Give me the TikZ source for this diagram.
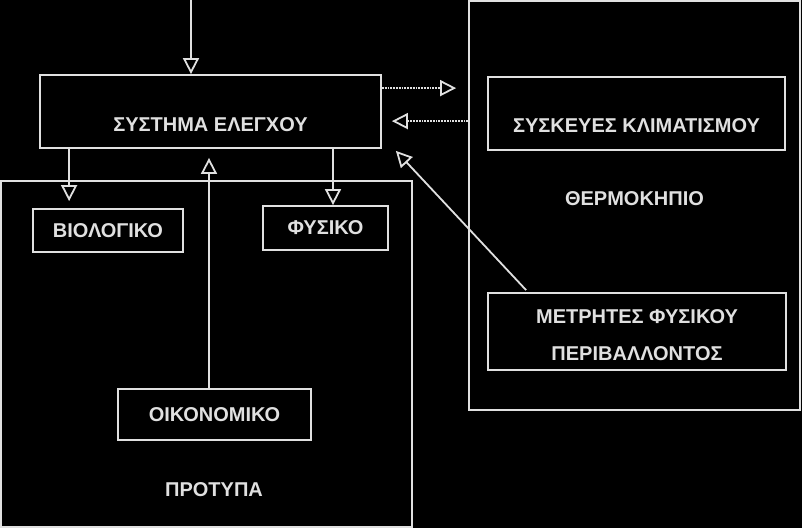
\documentclass[tikz,border=0pt]{standalone}
\usepackage{fontspec}
\setmainfont{Liberation Sans}
\usetikzlibrary{arrows.meta}
\definecolor{ink}{gray}{0.88}

\begin{document}
\begin{tikzpicture}[x=1pt,y=-1pt,
  box/.style={draw=ink,line width=1.8pt},
  txt/.style={text=ink,font=\fontsize{20}{37}\selectfont\bfseries,align=center},
  arr/.style={draw=ink,line width=1.8pt,-{Triangle[open,length=16pt,width=16pt]}},
  dotarr/.style={arr,densely dotted}]
\path[use as bounding box,fill=black] (0,0) rectangle (802,528);
% frames
\node[box,minimum width=411pt,minimum height=346pt] (proto) at (206.5,354) {};
\node[box,minimum width=331pt,minimum height=409pt,
  label={[txt,yshift=7pt]center:ΘΕΡΜΟΚΗΠΙΟ}] (green) at (634.5,205.5) {};
\node[txt] (protoname) at (214,490) {ΠΡΟΤΥΠΑ};
% boxes
\node[box,minimum width=341pt,minimum height=73pt,
  label={[txt,yshift=-13pt]center:ΣΥΣΤΗΜΑ ΕΛΕΓΧΟΥ}] (ctrl) at (210.5,111.5) {};
\node[box,txt,minimum width=150pt,minimum height=43pt] (bio) at (108,230.5) {ΒΙΟΛΟΓΙΚΟ};
\node[box,txt,minimum width=125pt,minimum height=44pt] (phys) at (325.5,228) {ΦΥΣΙΚΟ};
\node[box,txt,minimum width=193pt,minimum height=51pt] (econ) at (214.5,414.5) {ΟΙΚΟΝΟΜΙΚΟ};
\node[box,minimum width=297pt,minimum height=73pt,
  label={[txt,yshift=-12pt]center:ΣΥΣΚΕΥΕΣ ΚΛΙΜΑΤΙΣΜΟΥ}] (hvac) at (636.5,113.5) {};
\node[box,minimum width=298pt,minimum height=77pt,
  label={[txt,yshift=-4pt]center:ΜΕΤΡΗΤΕΣ ΦΥΣΙΚΟΥ\\ΠΕΡΙΒΑΛΛΟΝΤΟΣ}] (meas) at (637,331.5) {};
% arrows
\coordinate (in) at (191,0);
\draw[arr] (in) -- (in |- ctrl.north);
\path (ctrl.south west) ++(30,0) coordinate (c1);
\draw[arr,shorten >=7pt] (c1) -- (c1 |- bio.north);
\path (phys.north) ++(7.5,0) coordinate (c2);
\draw[arr] (c2 |- ctrl.south) -- (c2);
\path (econ.north) ++(-5.5,0) coordinate (c3);
\draw[arr,shorten >=9pt] (c3) -- (c3 |- ctrl.south);
\path (ctrl.north east) ++(0,14) coordinate (c4);
\draw[dotarr,shorten >=12pt] (c4) -- (c4 -| green.west);
\path (ctrl.north east) ++(0,47) coordinate (c5);
\draw[dotarr,shorten >=10pt] (c5 -| green.west) -- (c5);
\path (meas.north west) ++(39,-2) coordinate (c6);
\path (ctrl.south east) ++(14,2) coordinate (c7);
\draw[arr] (c6) -- (c7);
\end{tikzpicture}
\end{document}
